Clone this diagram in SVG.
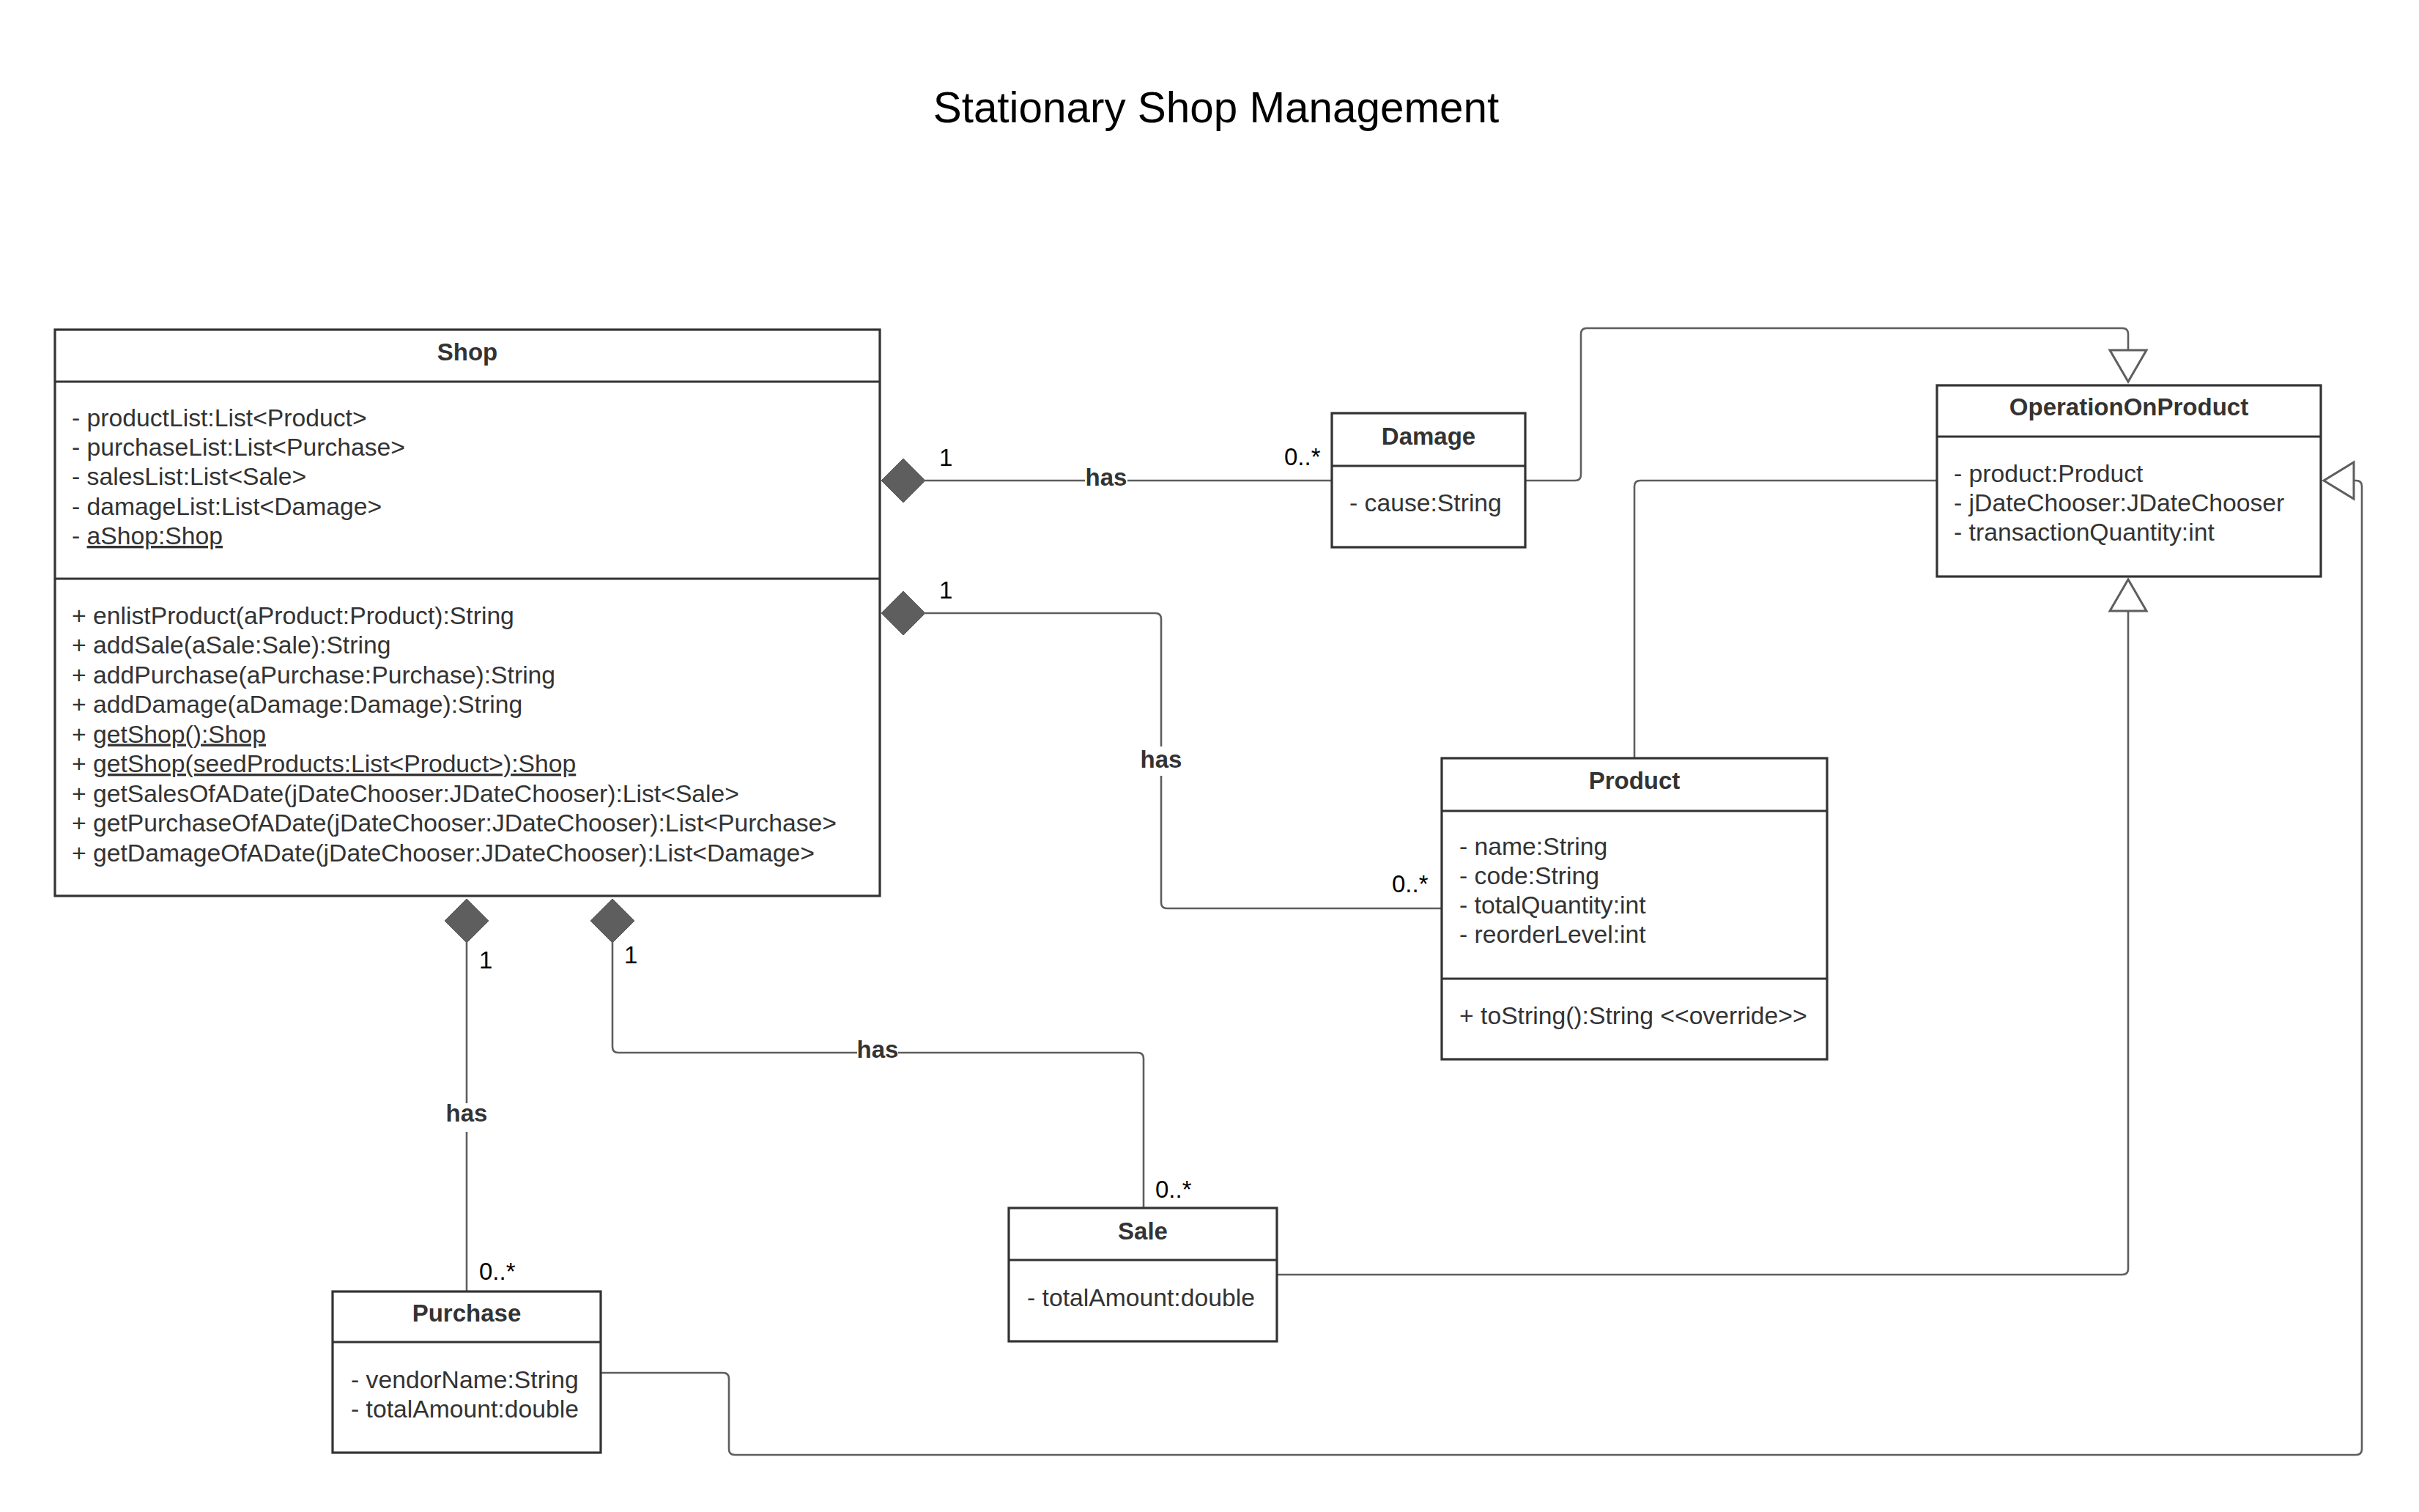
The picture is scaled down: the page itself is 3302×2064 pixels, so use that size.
<svg xmlns="http://www.w3.org/2000/svg" width="3302" height="2064" viewBox="0 0 3302 2064">
<style>
  .box { fill: #ffffff; stroke: #333333; stroke-width: 3.2; }
  .div { stroke: #333333; stroke-width: 3.2; fill: none; }
  .cls { font-family: "Liberation Sans", Arial, sans-serif; font-size: 33px; font-weight: bold; fill: #333333; text-anchor: middle; }
  .mem { font-family: "Liberation Sans", Arial, sans-serif; font-size: 33.7px; fill: #333333; }
  .edge { fill: none; stroke: #5e5e5e; stroke-width: 2.6; }
  .dia { fill: #5e5e5e; stroke: #5e5e5e; stroke-width: 1; }
  .tri { fill: #ffffff; stroke: #5e5e5e; stroke-width: 3; stroke-linejoin: miter; }
  .lbl { font-family: "Liberation Sans", Arial, sans-serif; font-size: 33px; font-weight: bold; fill: #333333; text-anchor: middle; }
  .lblbg { fill: #ffffff; }
  .mul { font-family: "Liberation Sans", Arial, sans-serif; font-size: 33px; fill: #000000; }
  .title { font-family: "Liberation Sans", Arial, sans-serif; font-size: 58.4px; fill: #000000; text-anchor: middle; }
  .u { text-decoration: underline; }
</style>
<rect x="0" y="0" width="3302" height="2064" fill="#ffffff"/>
<text class="title" x="1660" y="167">Stationary Shop Management</text>

<g id="connectors">
  <!-- Shop -> Damage (composition) -->
  <g id="c-shop-damage">
    <path class="edge" d="M1263,656 H1818"/>
    <polygon class="dia" points="1203,656 1233,626 1263,656 1233,686"/>
    <rect class="lblbg" x="1481" y="636" width="58" height="36"/>
    <text class="lbl" x="1510" y="663">has</text>
    <text class="mul" x="1282" y="636">1</text>
    <text class="mul" x="1753" y="635">0..*</text>
  </g>
  <!-- Shop -> Product (composition) -->
  <g id="c-shop-product">
    <path class="edge" d="M1263,837 H1577 Q1585,837 1585,845 V1232 Q1585,1240 1593,1240 H1968"/>
    <polygon class="dia" points="1203,837 1233,807 1263,837 1233,867"/>
    <rect class="lblbg" x="1553" y="1019" width="64" height="40"/>
    <text class="lbl" x="1585" y="1048">has</text>
    <text class="mul" x="1282" y="817">1</text>
    <text class="mul" x="1900" y="1218">0..*</text>
  </g>
  <!-- Shop -> Purchase (composition) -->
  <g id="c-shop-purchase">
    <path class="edge" d="M637,1286 V1763"/>
    <polygon class="dia" points="637,1227 667,1257 637,1287 607,1257"/>
    <rect class="lblbg" x="605" y="1506" width="64" height="39"/>
    <text class="lbl" x="637" y="1531">has</text>
    <text class="mul" x="654" y="1322">1</text>
    <text class="mul" x="654" y="1747">0..*</text>
  </g>
  <!-- Shop -> Sale (composition) -->
  <g id="c-shop-sale">
    <path class="edge" d="M836,1286 V1429 Q836,1437 844,1437 H1553 Q1561,1437 1561,1445 V1649"/>
    <polygon class="dia" points="836,1227 866,1257 836,1287 806,1257"/>
    <rect class="lblbg" x="1170" y="1418" width="56" height="36"/>
    <text class="lbl" x="1198" y="1444">has</text>
    <text class="mul" x="852" y="1315">1</text>
    <text class="mul" x="1577" y="1635">0..*</text>
  </g>
  <!-- Damage -> OperationOnProduct (generalization) -->
  <g id="c-damage-op">
    <path class="edge" d="M2082,656 H2150 Q2158,656 2158,648 V456 Q2158,448 2166,448 H2897 Q2905,448 2905,456 V478"/>
    <polygon class="tri" points="2880,478 2930,478 2905,521"/>
  </g>
  <!-- Product -> OperationOnProduct -->
  <g id="c-product-op">
    <path class="edge" d="M2231,1035 V664 Q2231,656 2239,656 H2644"/>
  </g>
  <!-- Sale -> OperationOnProduct (generalization) -->
  <g id="c-sale-op">
    <path class="edge" d="M1743,1740 H2897 Q2905,1740 2905,1732 V834"/>
    <polygon class="tri" points="2880,834 2930,834 2905,791"/>
  </g>
  <!-- Purchase -> OperationOnProduct (generalization) -->
  <g id="c-purchase-op">
    <path class="edge" d="M820,1874 H987 Q995,1874 995,1882 V1978 Q995,1986 1003,1986 H3216 Q3224,1986 3224,1978 V664 Q3224,656 3216,656 H3213"/>
    <polygon class="tri" points="3213,631 3213,681 3172,656"/>
  </g>
</g>

<g id="shop">
  <rect class="box" x="75" y="450" width="1126" height="773"/>
  <line class="div" x1="75" y1="521" x2="1201" y2="521"/>
  <line class="div" x1="75" y1="790" x2="1201" y2="790"/>
  <text class="cls" x="638" y="492">Shop</text>
  <text class="mem" x="98" y="582">- productList:List&lt;Product&gt;</text>
  <text class="mem" x="98" y="622">- purchaseList:List&lt;Purchase&gt;</text>
  <text class="mem" x="98" y="662">- salesList:List&lt;Sale&gt;</text>
  <text class="mem" x="98" y="702.5">- damageList:List&lt;Damage&gt;</text>
  <text class="mem" x="98" y="743">- <tspan class="u">aShop:Shop</tspan></text>
  <text class="mem" x="98" y="851.5">+ enlistProduct(aProduct:Product):String</text>
  <text class="mem" x="98" y="892">+ addSale(aSale:Sale):String</text>
  <text class="mem" x="98" y="932.5">+ addPurchase(aPurchase:Purchase):String</text>
  <text class="mem" x="98" y="973">+ addDamage(aDamage:Damage):String</text>
  <text class="mem" x="98" y="1013.5">+ <tspan class="u">getShop():Shop</tspan></text>
  <text class="mem" x="98" y="1054">+ <tspan class="u">getShop(seedProducts:List&lt;Product&gt;):Shop</tspan></text>
  <text class="mem" x="98" y="1094.5">+ getSalesOfADate(jDateChooser:JDateChooser):List&lt;Sale&gt;</text>
  <text class="mem" x="98" y="1135">+ getPurchaseOfADate(jDateChooser:JDateChooser):List&lt;Purchase&gt;</text>
  <text class="mem" x="98" y="1175.5">+ getDamageOfADate(jDateChooser:JDateChooser):List&lt;Damage&gt;</text>
</g>

<g id="damage">
  <rect class="box" x="1818" y="564" width="264" height="183"/>
  <line class="div" x1="1818" y1="636" x2="2082" y2="636"/>
  <text class="cls" x="1950" y="607">Damage</text>
  <text class="mem" x="1842" y="698">- cause:String</text>
</g>

<g id="operationOnProduct">
  <rect class="box" x="2644" y="526" width="524" height="261"/>
  <line class="div" x1="2644" y1="596" x2="3168" y2="596"/>
  <text class="cls" x="2906" y="567">OperationOnProduct</text>
  <text class="mem" x="2667" y="658">- product:Product</text>
  <text class="mem" x="2667" y="698">- jDateChooser:JDateChooser</text>
  <text class="mem" x="2667" y="738">- transactionQuantity:int</text>
</g>

<g id="product">
  <rect class="box" x="1968" y="1035" width="526" height="411"/>
  <line class="div" x1="1968" y1="1107" x2="2494" y2="1107"/>
  <line class="div" x1="1968" y1="1336" x2="2494" y2="1336"/>
  <text class="cls" x="2231" y="1077">Product</text>
  <text class="mem" x="1992" y="1167">- name:String</text>
  <text class="mem" x="1992" y="1207">- code:String</text>
  <text class="mem" x="1992" y="1247">- totalQuantity:int</text>
  <text class="mem" x="1992" y="1287">- reorderLevel:int</text>
  <text class="mem" x="1992" y="1398">+ toString():String &lt;&lt;override&gt;&gt;</text>
</g>

<g id="sale">
  <rect class="box" x="1377" y="1649" width="366" height="182"/>
  <line class="div" x1="1377" y1="1720" x2="1743" y2="1720"/>
  <text class="cls" x="1560" y="1692">Sale</text>
  <text class="mem" x="1402" y="1783">- totalAmount:double</text>
</g>

<g id="purchase">
  <rect class="box" x="454" y="1763" width="366" height="220"/>
  <line class="div" x1="454" y1="1832" x2="820" y2="1832"/>
  <text class="cls" x="637" y="1804">Purchase</text>
  <text class="mem" x="479" y="1895">- vendorName:String</text>
  <text class="mem" x="479" y="1935">- totalAmount:double</text>
</g>
</svg>
